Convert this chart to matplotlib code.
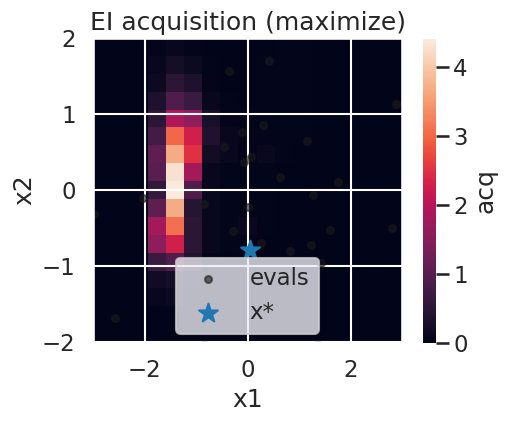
import numpy as np
import matplotlib
matplotlib.use("Agg")
import matplotlib.pyplot as plt
import seaborn as sns

sns.set_theme(context="talk", style="darkgrid")

# 17x17 acquisition grid (rows from bottom y=-2 to top y=2, cols from x=-3 to x=3)
n = 17
acq = np.zeros((n, n))
col3 = [0, 0, 0.1, 0.2, 0.7, 1.6, 1.8, 1.1, 0.6, 1.0, 1.1, 0.8, 0.5, 0.35, 0.15, 0.1, 0.05]
col4 = [0, 0, 0.15, 0.25, 0.9, 2.3, 3.1, 3.7, 4.41, 4.3, 3.7, 3.0, 1.9, 0.9, 0.5, 0.25, 0.1]
col5 = [0, 0, 0.03, 0.1, 0.4, 0.5, 0.5, 0.45, 0.9, 1.8, 2.5, 2.3, 1.6, 0.7, 0.35, 0.15, 0.05]
col6 = [0, 0, 0, 0, 0.05, 0.1, 0.1, 0.1, 0.1, 0.1, 0.22, 0.38, 0.28, 0.1, 0.05, 0.02, 0]
col7 = [0, 0, 0, 0, 0, 0.02, 0.03, 0.03, 0.02, 0.03, 0.08, 0.1, 0.05, 0.02, 0, 0, 0]
col8 = [0, 0, 0, 0, 0, 0.03, 0.12, 0.03, 0.02, 0.02, 0.05, 0.06, 0.02, 0, 0, 0, 0]
col9 = [0, 0, 0, 0, 0, 0, 0.03, 0.02, 0.02, 0.02, 0.12, 0.05, 0.02, 0.02, 0.02, 0.02, 0]
col10 = [0, 0, 0, 0, 0, 0, 0, 0, 0, 0, 0.02, 0.03, 0.03, 0.02, 0.02, 0.03, 0.02]
col11 = [0, 0, 0, 0, 0, 0, 0, 0, 0, 0, 0, 0.03, 0.03, 0.03, 0.02, 0.03, 0.03]
for c, v in [(3, col3), (4, col4), (5, col5), (6, col6), (7, col7), (8, col8),
             (9, col9), (10, col10), (11, col11)]:
    acq[:, c] = v

eval_x = [-0.36, 0.42, 2.89, 0.30, 1.16, 0.63, 1.76, -0.11, -0.45, -0.07, 0.06,
          -2.02, -0.84, 0.0, -0.28, 0.27, 1.27, 1.60, 2.81, 0.83, 1.24, 1.42,
          1.35, -2.98, -2.57, -0.85]
eval_y = [1.57, 1.70, 1.13, 0.85, 0.64, 0.17, 0.10, 0.76, 0.57, 0.37, 0.43,
          -0.11, -0.19, -0.23, -0.54, -0.70, -0.07, -0.53, -0.50, -0.80, -0.72, -0.96,
          -2.02, -0.31, -1.69, -2.02]
xstar = [0.05]
ystar = [-0.79]

fig = plt.figure(figsize=(5.09, 4.26), dpi=100)
ax = fig.add_axes([93 / 509, 84 / 426, 309 / 509, 304 / 426])
cax = fig.add_axes([423 / 509, 83 / 426, 13 / 509, 304 / 426])

im = ax.imshow(acq, origin="lower", extent=[-3, 3, -2, 2], aspect="auto",
               cmap="rocket", vmin=0, vmax=4.41)
ax.scatter(eval_x, eval_y, c="k", s=25, alpha=0.6, label="evals")
ax.scatter(xstar, ystar, marker="*", s=200, c="tab:blue", label="x*")
ax.set_xlim(-3, 3)
ax.set_ylim(-2, 2)
ax.set_xticks([-2, 0, 2])
ax.set_yticks([-2, -1, 0, 1, 2])
ax.set_xlabel("x1")
ax.set_ylabel("x2")
ax.set_title("EI acquisition (maximize)")
ax.legend(loc="lower center", bbox_to_anchor=(0.5, -0.01))

cb = fig.colorbar(im, cax=cax)
cb.set_label("acq")
cb.outline.set_visible(False)

fig.savefig("out.png", dpi=100)
